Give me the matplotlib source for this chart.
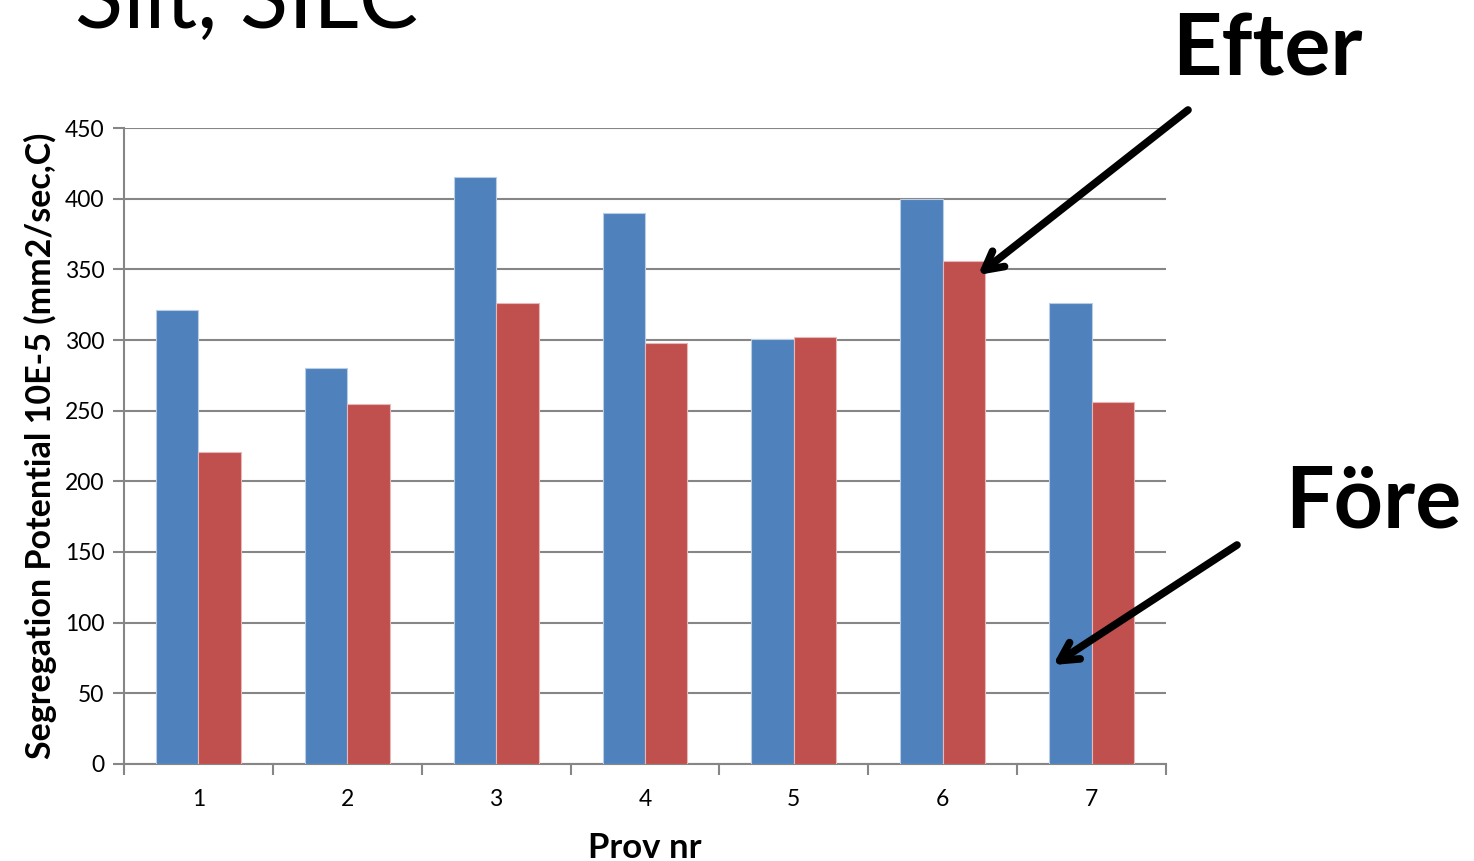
import matplotlib.pyplot as plt
import numpy as np

plt.rcParams['font.family'] = ['Lato', 'DejaVu Sans']

# Segregation potential per sample
prov = ["1", "2", "3", "4", "5", "6", "7"]
fore = [321, 280, 415, 390, 301, 400, 326]
efter = [221, 255, 326, 298, 302, 356, 256]

fig = plt.figure(figsize=(14.74, 8.61), dpi=100)
ax = fig.add_axes([0.0841, 0.1127, 0.7069, 0.7386])

x = np.arange(len(prov))
w = 0.285
ax.bar(x - w / 2, fore, w, color='#4F81BD', edgecolor='#B9CDE5', linewidth=0.8, zorder=3)
ax.bar(x + w / 2, efter, w, color='#C0504D', edgecolor='#E6B9B8', linewidth=0.8, zorder=3)

ax.set_xlim(-0.5, len(prov) - 0.5)
ax.set_ylim(0, 450)
ax.set_yticks(range(0, 451, 50))
ax.set_xticks(x)
ax.set_xticklabels(prov)
ax.set_xticks(np.arange(-0.5, len(prov)), minor=True)
ax.tick_params(axis='x', which='major', length=0, pad=18, labelsize=16.5)
ax.tick_params(axis='x', which='minor', length=8, width=1.5, color='#868686')
ax.tick_params(axis='y', length=8, width=1.5, color='#868686', labelsize=16.5, pad=6)

ax.grid(axis='y', color='#868686', linewidth=1.5, zorder=0)
for side in ['top', 'right']:
    ax.spines[side].set_visible(False)
for side in ['left', 'bottom']:
    ax.spines[side].set_color('#868686')
    ax.spines[side].set_linewidth(1.5)

ax.set_ylabel("Segregation Potential 10E-5 (mm2/sec,C)", fontsize=24.5, fontweight='bold', labelpad=6)
ax.set_xlabel("Prov nr", fontsize=25, fontweight='bold', labelpad=16)

fig.text(75 / 1474, 1 - 28 / 861, "Silt, SILC", fontsize=64, va='baseline', ha='left')
fig.text(1172 / 1474, 1 - 75 / 861, "Efter", fontsize=62, fontweight='bold', va='baseline', ha='left')
fig.text(1285 / 1474, 1 - 528 / 861, "Före", fontsize=62, fontweight='bold', va='baseline', ha='left')

arrow = dict(arrowstyle='->, head_length=1.3, head_width=0.7', color='black', lw=5.5, shrinkA=0, shrinkB=0)
ax.annotate("", xy=(978 / 1474, 1 - 275 / 861), xytext=(1188 / 1474, 1 - 110 / 861),
            xycoords='figure fraction', textcoords='figure fraction', arrowprops=arrow, annotation_clip=False)
ax.annotate("", xy=(1053 / 1474, 1 - 665 / 861), xytext=(1237 / 1474, 1 - 545 / 861),
            xycoords='figure fraction', textcoords='figure fraction', arrowprops=arrow, annotation_clip=False)

fig.savefig("out.png", dpi=100)
